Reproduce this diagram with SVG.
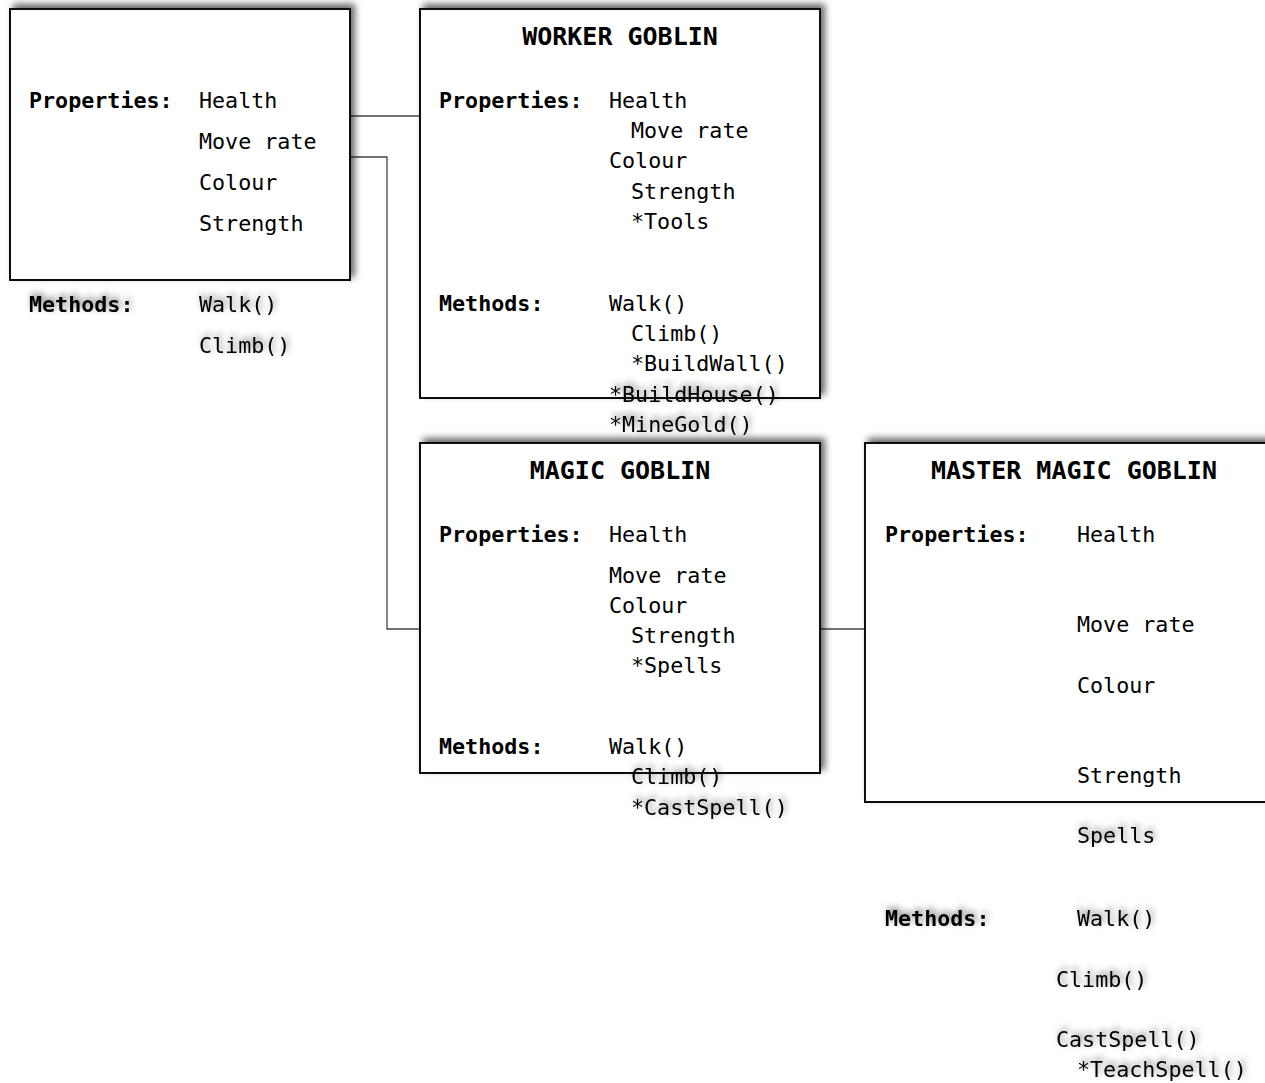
<svg xmlns="http://www.w3.org/2000/svg" width="1265" height="1083" viewBox="0 0 1265 1083">
<defs>
<filter id="boxShadow" x="-10%" y="-10%" width="120%" height="120%">
<feDropShadow dx="4" dy="-4" stdDeviation="3.5" flood-color="#000" flood-opacity="0.6"/>
</filter>
<filter id="textShadow" x="-10%" y="-40%" width="120%" height="180%">
<feDropShadow dx="2" dy="-3" stdDeviation="3" flood-color="#000" flood-opacity="0.5"/>
</filter>
</defs>
<style>
.box{fill:#fff;stroke:#111;stroke-width:2;filter:url(#boxShadow)}
.t{font-family:"DejaVu Sans Mono","Liberation Mono",monospace;font-size:21.7px;fill:#000}
.b{font-weight:bold}
.title{font-family:"DejaVu Sans Mono","Liberation Mono",monospace;font-size:25px;font-weight:bold;fill:#000;text-anchor:middle}
.sh{filter:url(#textShadow)}
.conn{fill:none;stroke:#444;stroke-width:1.3}
</style>
<rect width="1265" height="1083" fill="#fff"/>
<g id="connectors">
<path class="conn" d="M350,116 H420"/>
<path class="conn" d="M350,157 H387 V629 H420"/>
<path class="conn" d="M820,629 H865"/>
</g>
<g id="goblin">
<rect class="box" x="10" y="9" width="340" height="271"/>
<text class="t b" x="29" y="108">Properties:</text>
<text class="t" x="199" y="108">Health</text>
<text class="t" x="199" y="149">Move rate</text>
<text class="t" x="199" y="190">Colour</text>
<text class="t" x="199" y="231">Strength</text>
<text class="t b sh" x="29" y="312">Methods:</text>
<text class="t sh" x="199" y="312">Walk()</text>
<text class="t sh" x="199" y="353">Climb()</text>
</g>
<g id="worker-goblin">
<rect class="box" x="420" y="9" width="400" height="389"/>
<text class="title" x="620" y="45">WORKER GOBLIN</text>
<text class="t b" x="439" y="108">Properties:</text>
<text class="t" x="609" y="108">Health</text>
<text class="t" x="631" y="138">Move rate</text>
<text class="t" x="609" y="168">Colour</text>
<text class="t" x="631" y="199">Strength</text>
<text class="t" x="631" y="229">*Tools</text>
<text class="t b" x="439" y="311">Methods:</text>
<text class="t" x="609" y="311">Walk()</text>
<text class="t" x="631" y="341">Climb()</text>
<text class="t" x="631" y="371">*BuildWall()</text>
<text class="t sh" x="609" y="402">*BuildHouse()</text>
<text class="t sh" x="609" y="432">*MineGold()</text>
</g>
<g id="magic-goblin">
<rect class="box" x="420" y="443" width="400" height="330"/>
<text class="title" x="620" y="479">MAGIC GOBLIN</text>
<text class="t b" x="439" y="542">Properties:</text>
<text class="t" x="609" y="542">Health</text>
<text class="t" x="609" y="583">Move rate</text>
<text class="t" x="609" y="613">Colour</text>
<text class="t" x="631" y="643">Strength</text>
<text class="t" x="631" y="673">*Spells</text>
<text class="t b" x="439" y="754">Methods:</text>
<text class="t" x="609" y="754">Walk()</text>
<text class="t sh" x="631" y="784">Climb()</text>
<text class="t sh" x="631" y="815">*CastSpell()</text>
</g>
<g id="master-magic-goblin">
<rect class="box" x="865" y="443" width="420" height="359"/>
<text class="title" x="1074" y="479">MASTER MAGIC GOBLIN</text>
<text class="t b" x="885" y="542">Properties:</text>
<text class="t" x="1077" y="542">Health</text>
<text class="t" x="1077" y="632">Move rate</text>
<text class="t" x="1077" y="693">Colour</text>
<text class="t" x="1077" y="783">Strength</text>
<text class="t sh" x="1077" y="843">Spells</text>
<text class="t b sh" x="885" y="926">Methods:</text>
<text class="t sh" x="1077" y="926">Walk()</text>
<text class="t sh" x="1056" y="987">Climb()</text>
<text class="t sh" x="1056" y="1047">CastSpell()</text>
<text class="t sh" x="1077" y="1077">*TeachSpell()</text>
</g>
</svg>
